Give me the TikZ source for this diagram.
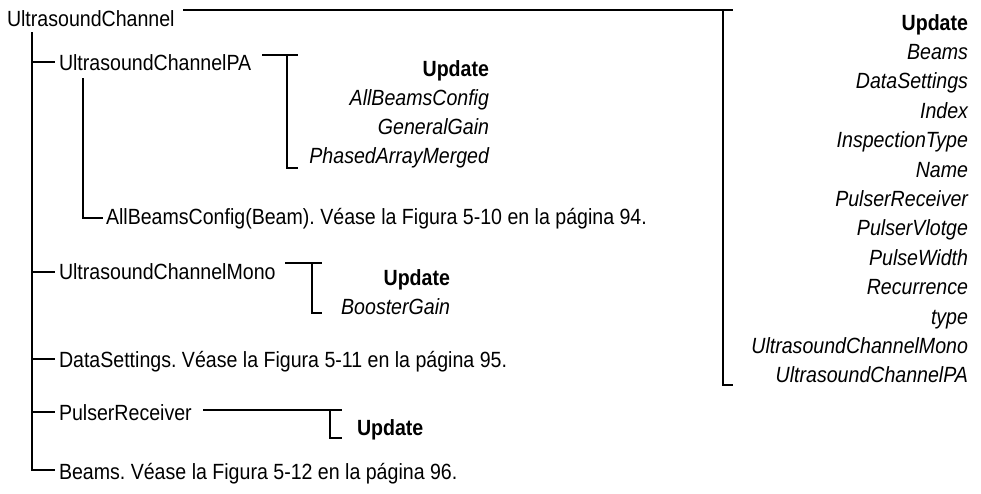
\documentclass[tikz,border=0pt]{standalone}
\usepackage{fontspec}
\setmainfont{Liberation Sans}[FakeStretch=0.89]
\begin{document}
\frenchspacing
\begin{tikzpicture}[x=1pt,y=-1pt,
  lbl/.style={inner sep=0pt, outer sep=0pt, font=\fontsize{22}{26}\selectfont, anchor=base west},
  attr/.style={inner sep=0pt, outer sep=0pt, font=\fontsize{22}{26}\selectfont\itshape, anchor=base east},
  upd/.style={inner sep=0pt, outer sep=0pt, font=\fontsize{22}{26}\selectfont\bfseries, anchor=base east},
  tree/.style={line width=2pt, line join=miter}]
\useasboundingbox (0,0) rectangle (981,493);

% ---------- root ----------
\node[lbl] (root) at (7,26) {UltrasoundChannel};
\coordinate (rootL) at (183,10);
\coordinate (rootV) at (723,10);
\coordinate (rootR) at (733,10);
\coordinate (rootVb) at (723,385);
\coordinate (rootRb) at (733,385);
\draw[tree] (rootL) -- (rootR);
\draw[tree] (rootV) -- (rootVb) -- (rootRb);

\node[upd] (rU) at (968,30) {Update};
\foreach \t [count=\i] in {Beams,DataSettings,Index,InspectionType,Name,PulserReceiver,PulserVlotge,PulseWidth,Recurrence,type,UltrasoundChannelMono,UltrasoundChannelPA}
  \node[attr] (r\i) at (968,30+29.4*\i) {\t};

% ---------- main trunk ----------
\coordinate (tTop) at (32,32);
\coordinate (tBot) at (32,470);
\coordinate (tEnd) at (55,470);
\coordinate (bPA) at (32,62);
\coordinate (ePA) at (55,62);
\coordinate (bMono) at (32,272);
\coordinate (eMono) at (55,272);
\coordinate (bDS) at (32,359);
\coordinate (eDS) at (55,359);
\coordinate (bPR) at (32,412);
\coordinate (ePR) at (55,412);
\draw[tree] (tTop) -- (tBot) -- (tEnd);
\draw[tree] (bPA) -- (ePA);
\draw[tree] (bMono) -- (eMono);
\draw[tree] (bDS) -- (eDS);
\draw[tree] (bPR) -- (ePR);

% ---------- UltrasoundChannelPA ----------
\node[lbl] (pa) at (59,70) {UltrasoundChannelPA};
\coordinate (paL) at (262,55);
\coordinate (paV) at (287,55);
\coordinate (paR) at (298,55);
\coordinate (paVb) at (287,168);
\coordinate (paRb) at (298,168);
\draw[tree] (paL) -- (paR);
\draw[tree] (paV) -- (paVb) -- (paRb);
\node[upd] (paU) at (489,76) {Update};
\node[attr] (pa1) at (489,105) {AllBeamsConfig};
\node[attr] (pa2) at (489,134) {GeneralGain};
\node[attr] (pa3) at (489,163) {PhasedArrayMerged};

\coordinate (inTop) at (83,78);
\coordinate (inBot) at (83,218);
\coordinate (inEnd) at (103,218);
\draw[tree] (inTop) -- (inBot) -- (inEnd);
\node[lbl] (abc) at (106,224) {AllBeamsConfig(Beam). Véase la Figura 5-10 en la página 94.};

% ---------- UltrasoundChannelMono ----------
\node[lbl] (mono) at (59,279) {UltrasoundChannelMono};
\coordinate (moL) at (285,263);
\coordinate (moV) at (312,263);
\coordinate (moR) at (322,263);
\coordinate (moVb) at (312,313);
\coordinate (moRb) at (322,313);
\draw[tree] (moL) -- (moR);
\draw[tree] (moV) -- (moVb) -- (moRb);
\node[upd] (moU) at (450,285) {Update};
\node[attr] (mo1) at (450,314) {BoosterGain};

% ---------- DataSettings ----------
\node[lbl] (ds) at (59,367) {DataSettings. Véase la Figura 5-11 en la página 95.};

% ---------- PulserReceiver ----------
\node[lbl] (pr) at (59,420) {PulserReceiver};
\coordinate (prL) at (203,410);
\coordinate (prV) at (330,410);
\coordinate (prR) at (342,410);
\coordinate (prVb) at (330,438);
\coordinate (prRb) at (342,438);
\draw[tree] (prL) -- (prR);
\draw[tree] (prV) -- (prVb) -- (prRb);
\node[lbl, font=\fontsize{22}{26}\selectfont\bfseries] (prU) at (357,435) {Update};

% ---------- Beams ----------
\node[lbl] (bm) at (59,479) {Beams. Véase la Figura 5-12 en la página 96.};
\end{tikzpicture}
\end{document}
